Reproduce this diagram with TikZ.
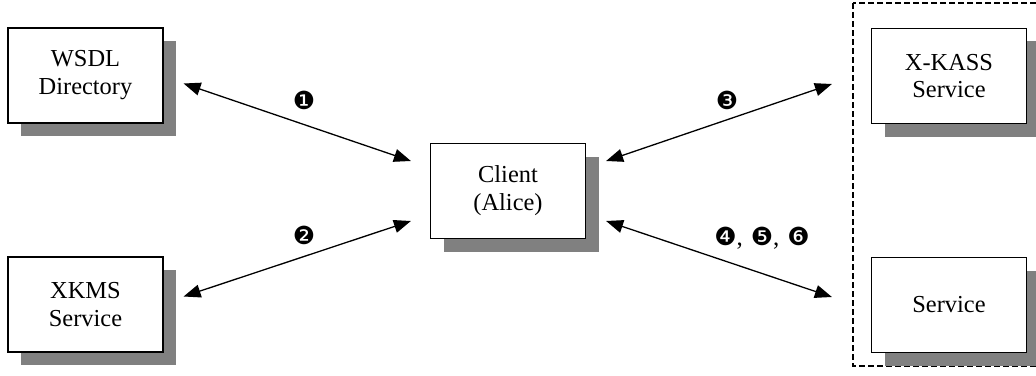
\documentclass[tikz,border=0pt]{standalone}
\usepackage{fontspec}
\setmainfont{Liberation Serif}
\newfontfamily\dingfont{DejaVu Sans}
\usetikzlibrary{arrows.meta,shadows}

\begin{document}
\begin{tikzpicture}[x=1bp,y=1bp,
        box/.style={draw, line width=1.2bp, fill=white, minimum width=155bp, minimum height=95bp, align=center,
            font=\fontsize{24.5}{28}\selectfont,
            drop shadow={shadow xshift=13bp, shadow yshift=-13bp, fill=black!50, opacity=1}},
        link/.style={{Triangle[length=17bp,width=13bp]}-{Triangle[length=17bp,width=13bp]}, line width=1.3bp},
        num/.style={font=\dingfont\fontsize{25}{25}\selectfont}]
    \useasboundingbox (0,0) rectangle (1036,375);
    % trust domain of the service side
    \draw [dash pattern=on 6bp off 3bp, line width=1.4bp] (853,372) rectangle (1045,9);
    \node [box] (wsdl) at (85.5,299.5) {WSDL\\Directory};
    \node [box] (xkms) at (85.5,70.5) {XKMS\\Service};
    \node [box] (client) at (508,184) {Client\\(Alice)};
    \node [box] (xkass) at (949,299) {X-KASS\\Service};
    \node [box] (service) at (949,70) {Service};
    \draw [link] ([shift={(20,-8)}]wsdl.east) -- ([shift={(-19,30)}]client.west);
    \draw [link] ([shift={(20,8)}]xkms.east) -- ([shift={(-19,-30)}]client.west);
    \draw [link] ([shift={(20,30)}]client.east) -- ([shift={(-39,-8)}]xkass.west);
    \draw [link] ([shift={(20,-30)}]client.east) -- ([shift={(-39,8)}]service.west);
    \node [num] (n1) at (304,275) {❶};
    \node [num] (n2) at (304,140) {❷};
    \node [num] (n3) at (727,275) {❸};
    \node [num] (n456) at (762,137) {❹{\rmfamily,} ❺{\rmfamily,} ❻};
\end{tikzpicture}
\end{document}
